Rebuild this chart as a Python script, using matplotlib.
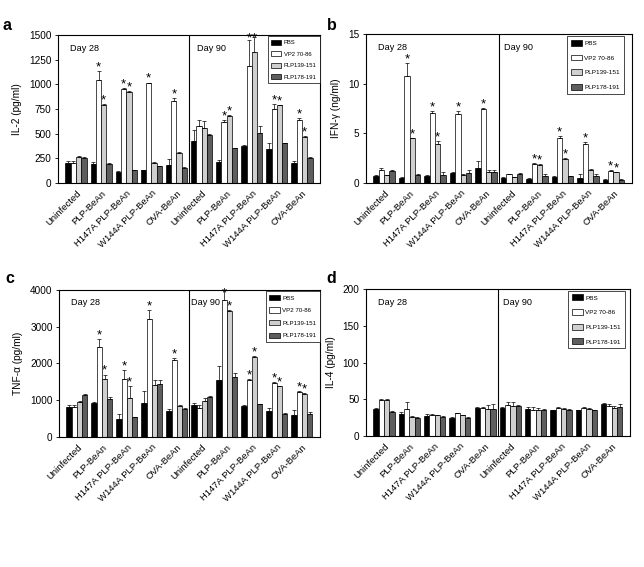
import matplotlib
matplotlib.use("Agg")
import matplotlib.pyplot as plt
import numpy as np
from matplotlib.patches import Patch

plt.rcParams['font.family'] = ['Liberation Sans', 'DejaVu Sans']

groups = ["Uninfected", "PLP-BeAn", "H147A PLP-BeAn", "W144A PLP-BeAn", "OVA-BeAn",
          "Uninfected", "PLP-BeAn", "H147A PLP-BeAn", "W144A PLP-BeAn", "OVA-BeAn"]
series = ["PBS", "VP2 70-86", "PLP139-151", "PLP178-191"]
colors = ["#000000", "#ffffff", "#cfcfcf", "#5e5e5e"]

# IL-2 (pg/ml)
il2_pbs = [205, 190, 115, 130, 185, 425, 210, 380, 345, 200]
il2_pbs_err = [20, 25, 10, 5, 60, 110, 25, 5, 60, 25]
il2_vp2 = [205, 1050, 950, 1010, 830, 580, 620, 1185, 750, 640]
il2_vp2_err = [20, 90, 15, 10, 30, 60, 20, 265, 50, 20]
il2_p139 = [265, 795, 920, 205, 305, 555, 680, 1325, 790, 470]
il2_p139_err = [8, 10, 15, 5, 15, 70, 15, 155, 5, 10]
il2_p178 = [255, 195, 130, 170, 155, 490, 355, 510, 405, 250]
il2_p178_err = [8, 5, 5, 5, 5, 5, 5, 70, 5, 15]
il2_sig_vp2 = [1, 2, 3, 4, 6, 7, 8, 9]
il2_sig_p139 = [1, 2, 6, 7, 8, 9]

# IFN-gamma (ng/ml)
ifn_pbs = [0.75, 0.55, 0.7, 1.05, 1.55, 0.5, 0.45, 0.65, 0.55, 0.35]
ifn_pbs_err = [0.05, 0.05, 0.15, 0.05, 0.65, 0.1, 0.05, 0.1, 0.35, 0.05]
ifn_vp2 = [1.3, 10.8, 7.1, 6.95, 7.45, 0.9, 1.9, 4.5, 3.9, 1.2]
ifn_vp2_err = [0.2, 1.3, 0.2, 0.35, 0.15, 0.05, 0.1, 0.2, 0.2, 0.1]
ifn_p139 = [0.8, 4.5, 3.9, 0.85, 1.1, 0.6, 1.8, 2.4, 1.3, 1.1]
ifn_p139_err = [0.05, 0.05, 0.3, 0.05, 0.2, 0.05, 0.1, 0.1, 0.1, 0.05]
ifn_p178 = [1.2, 0.85, 0.85, 1.05, 1.15, 0.95, 0.75, 0.7, 0.75, 0.35]
ifn_p178_err = [0.15, 0.05, 0.25, 0.25, 0.15, 0.05, 0.15, 0.05, 0.15, 0.05]
ifn_sig_vp2 = [1, 2, 3, 4, 6, 7, 8, 9]
ifn_sig_p139 = [1, 2, 6, 7, 9]

# TNF-alpha (pg/ml)
tnf_pbs = [820, 920, 480, 920, 700, 860, 1560, 840, 720, 610]
tnf_pbs_err = [40, 30, 150, 330, 60, 60, 380, 20, 80, 130]
tnf_vp2 = [820, 2450, 1570, 3200, 2100, 800, 3720, 1560, 1480, 1230]
tnf_vp2_err = [60, 200, 260, 250, 50, 60, 300, 20, 20, 30]
tnf_p139 = [950, 1580, 1070, 1420, 840, 990, 3420, 2180, 1380, 1160]
tnf_p139_err = [30, 120, 330, 120, 40, 60, 30, 20, 20, 30]
tnf_p178 = [1150, 1040, 540, 1450, 770, 1080, 1620, 900, 620, 640]
tnf_p178_err = [20, 50, 10, 90, 20, 40, 110, 10, 30, 30]
tnf_sig_vp2 = [1, 2, 3, 4, 6, 7, 8, 9]
tnf_sig_p139 = [1, 2, 6, 7, 8, 9]

# IL-4 (pg/ml)
il4_pbs = [37, 30, 27, 25, 38, 38, 37, 35, 35, 44]
il4_pbs_err = [1, 3, 3, 1, 1, 2, 2, 1, 1, 1]
il4_vp2 = [49, 37, 29, 31, 38, 42, 36, 38, 38, 41]
il4_vp2_err = [2, 9, 1, 1, 2, 4, 3, 1, 1, 2]
il4_p139 = [49, 26, 28, 28, 37, 41, 35, 37, 37, 38]
il4_p139_err = [2, 1, 1, 1, 5, 5, 3, 1, 1, 3]
il4_p178 = [33, 25, 26, 25, 37, 41, 36, 36, 35, 40]
il4_p178_err = [1, 1, 1, 1, 6, 1, 1, 1, 1, 4]

panels = [
    dict(letter="a", rect=[0.090, 0.677, 0.407, 0.261], ylabel="IL-2 (pg/ml)",
         ylim=1500, yticks=[0, 250, 500, 750, 1000, 1250, 1500],
         vals=[il2_pbs, il2_vp2, il2_p139, il2_p178],
         errs=[il2_pbs_err, il2_vp2_err, il2_p139_err, il2_p178_err],
         sig={1: il2_sig_vp2, 2: il2_sig_p139}, legfs=4.2, legls=1.0,
         legpos=(1.0, 0.993), letterpos=(0.004, 0.942), day90x=0.53),
    dict(letter="b", rect=[0.568, 0.677, 0.413, 0.263], ylabel="IFN-\u03b3 (ng/ml)",
         ylim=15, yticks=[0, 5, 10, 15],
         vals=[ifn_pbs, ifn_vp2, ifn_p139, ifn_p178],
         errs=[ifn_pbs_err, ifn_vp2_err, ifn_p139_err, ifn_p178_err],
         sig={1: ifn_sig_vp2, 2: ifn_sig_p139}, legfs=4.6, legls=1.35,
         legpos=(0.97, 0.985), letterpos=(0.507, 0.942), day90x=0.52),
    dict(letter="c", rect=[0.0916, 0.229, 0.405, 0.260], ylabel="TNF-\u03b1 (pg/ml)",
         ylim=4000, yticks=[0, 1000, 2000, 3000, 4000],
         vals=[tnf_pbs, tnf_vp2, tnf_p139, tnf_p178],
         errs=[tnf_pbs_err, tnf_vp2_err, tnf_p139_err, tnf_p178_err],
         sig={1: tnf_sig_vp2, 2: tnf_sig_p139}, legfs=4.4, legls=1.1,
         legpos=(1.0, 0.99), letterpos=(0.008, 0.496), day90x=0.505),
    dict(letter="d", rect=[0.568, 0.231, 0.410, 0.259], ylabel="IL-4 (pg/ml)",
         ylim=200, yticks=[0, 50, 100, 150, 200],
         vals=[il4_pbs, il4_vp2, il4_p139, il4_p178],
         errs=[il4_pbs_err, il4_vp2_err, il4_p139_err, il4_p178_err],
         sig={}, legfs=4.6, legls=1.35,
         legpos=(0.98, 0.99), letterpos=(0.507, 0.496), day90x=0.52),
]

fig = plt.figure(figsize=(6.44, 5.67), dpi=100)
x = np.array([0, 1, 2, 3, 4, 5, 6, 7, 8, 9], dtype=float)
w = 0.21
offsets = [-1.5 * w, -0.5 * w, 0.5 * w, 1.5 * w]

for p in panels:
    ax = fig.add_axes(p["rect"])
    ymax = p["ylim"]
    for s in range(4):
        ax.bar(x + offsets[s], p["vals"][s], width=w, color=colors[s],
               edgecolor="black", linewidth=0.5, zorder=2)
        ax.errorbar(x + offsets[s], p["vals"][s],
                    yerr=[np.zeros(10), p["errs"][s]], fmt="none",
                    ecolor="black", elinewidth=0.5, capsize=1.5, capthick=0.5, zorder=3)
    for s, idxs in p["sig"].items():
        for i in idxs:
            top = p["vals"][s][i] + p["errs"][s][i]
            yy = min(top + ymax * 0.004, ymax * 0.955)
            ax.text(x[i] + offsets[s], yy, "*", ha="center", va="baseline",
                    fontsize=9.5, clip_on=False, zorder=4)
    ax.axvline(4.5, color="black", linewidth=0.8, zorder=1)
    ax.set_xlim(-0.72, 9.72)
    ax.set_ylim(0, ymax)
    ax.set_yticks(p["yticks"])
    ax.tick_params(axis="y", labelsize=7.2, length=2.5, width=0.6, pad=2)
    ax.set_xticks(x)
    ax.set_xticklabels(groups, rotation=45, ha="right", rotation_mode="anchor", fontsize=6.8)
    ax.tick_params(axis="x", length=0, pad=4)
    for sp in ax.spines.values():
        sp.set_linewidth(0.8)
    ax.set_ylabel(p["ylabel"], fontsize=7.3, labelpad=5)
    ax.text(0.045, 0.895, "Day 28", transform=ax.transAxes, fontsize=6.6)
    ax.text(p["day90x"], 0.895, "Day 90", transform=ax.transAxes, fontsize=6.6)
    handles = [Patch(facecolor=colors[s], edgecolor="black", linewidth=0.5, label=series[s])
               for s in range(4)]
    leg = ax.legend(handles=handles, loc="upper right", bbox_to_anchor=p["legpos"],
                    fontsize=p["legfs"], fancybox=False, framealpha=1, edgecolor="black",
                    handlelength=1.7, handleheight=1.0, labelspacing=p["legls"],
                    borderpad=0.6, handletextpad=0.4, borderaxespad=0.0)
    leg.get_frame().set_linewidth(0.5)
    fig.text(p["letterpos"][0], p["letterpos"][1], p["letter"], fontsize=11.5,
             fontweight="bold", ha="left", va="bottom")

fig.savefig("out.png", dpi=100)
